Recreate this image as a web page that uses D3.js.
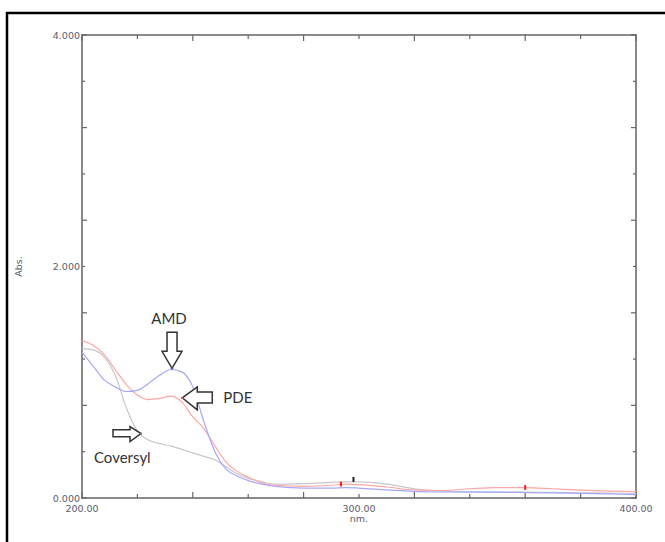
<!DOCTYPE html>
<html>
<head>
<meta charset="utf-8">
<script src="https://cdn.jsdelivr.net/npm/d3@7/dist/d3.min.js"></script>
<style>
  body { margin: 0; background: #fff; }
  .tick-label { font-family: "DejaVu Sans", sans-serif; font-size: 9.5px; fill: #5c5c6a; }
  .note { font-family: Lato, "Open Sans", sans-serif; font-size: 15px; fill: #333; }
</style>
</head>
<body>
<script>
// wavelengths (nm) shared by the three spectra
const wavelengths = [200, 204, 208, 212, 216, 220, 224, 228, 232, 236, 240, 244, 248, 252, 256, 260,
  265, 270, 280, 290, 295, 300, 310, 320, 330, 340, 350, 360, 370, 380, 390, 400];

// absorbance
const amdValues = [1.26, 1.14, 1.02, 0.96, 0.92, 0.93, 0.99, 1.06, 1.11, 1.09, 0.96, 0.66, 0.40, 0.25, 0.19, 0.15,
  0.12, 0.10, 0.085, 0.085, 0.09, 0.085, 0.07, 0.058, 0.052, 0.05, 0.05, 0.047, 0.045, 0.04, 0.035, 0.03];
const pdeValues = [1.36, 1.32, 1.24, 1.11, 0.98, 0.89, 0.85, 0.86, 0.88, 0.83, 0.70, 0.60, 0.45, 0.31, 0.23, 0.18,
  0.13, 0.11, 0.10, 0.11, 0.12, 0.115, 0.095, 0.07, 0.065, 0.08, 0.09, 0.09, 0.08, 0.068, 0.06, 0.056];
const coversylValues = [1.29, 1.28, 1.22, 1.06, 0.78, 0.58, 0.50, 0.47, 0.45, 0.42, 0.39, 0.36, 0.33, 0.27, 0.21, 0.17,
  0.14, 0.12, 0.125, 0.135, 0.14, 0.14, 0.12, 0.08, 0.06, 0.055, 0.05, 0.05, 0.048, 0.045, 0.042, 0.04];

const seriesNames = ["Coversyl", "PDE", "AMD"];
const seriesColors = ["#c8c8c8", "#ffa5a5", "#a8a8f8"];
const dotColors = ["#777", "#e05050", "#5050c0"];

// small peak pick marks
const peakNm = [293.5, 298, 360];
const peakAbs = [0.125, 0.165, 0.095];
const peakColors = ["#ff2020", "#222", "#ff2020"];

// annotation arrows: tip position (nm, abs)
const noteLabels = ["AMD", "PDE", "Coversyl"];
const noteTipNm = [232.5, 236.2, 221.3];
const noteTipAbs = [1.12, 0.865, 0.556];

const xTickLabels = [200, 300, 400];
const yTickLabels = [0, 2, 4];

const margin = { top: 35, right: 29, bottom: 44, left: 82 };
const width = 665 - margin.left - margin.right;
const height = 542 - margin.top - margin.bottom;

const svg = d3.select("body").append("svg")
  .attr("width", 665)
  .attr("height", 542);

// outer frame
svg.append("rect")
  .attr("x", 7).attr("y", 13)
  .attr("width", 700).attr("height", 600)
  .attr("fill", "none")
  .attr("stroke", "#000")
  .attr("stroke-width", 2.5);

const g = svg.append("g").attr("transform", `translate(${margin.left},${margin.top})`);

const x = d3.scaleLinear().domain([200, 400]).range([0, width]);
const y = d3.scaleLinear().domain([0, 4]).range([height, 0]);

// plot frame
g.append("rect")
  .attr("width", width).attr("height", height)
  .attr("fill", "none")
  .attr("stroke", "#8a8a8a")
  .attr("stroke-width", 2);

// ticks pointing inward
const xTicks = d3.range(200, 401, 20);
const yTicks = d3.range(0, 4.01, 0.4);
const tickStyle = sel => sel.attr("stroke", "#666").attr("stroke-width", 1.2);

xTicks.forEach(v => {
  const len = (v - 200) % 40 === 0 ? 6 : 4;
  g.append("line").attr("x1", x(v)).attr("x2", x(v)).attr("y1", height).attr("y2", height - len).call(tickStyle);
  g.append("line").attr("x1", x(v)).attr("x2", x(v)).attr("y1", 0).attr("y2", len).call(tickStyle);
});
yTicks.forEach((v, i) => {
  const len = i % 2 === 0 ? 5 : 3;
  g.append("line").attr("x1", 0).attr("x2", len).attr("y1", y(v)).attr("y2", y(v)).call(tickStyle);
  g.append("line").attr("x1", width).attr("x2", width - len).attr("y1", y(v)).attr("y2", y(v)).call(tickStyle);
});

g.selectAll(".xl").data(xTickLabels).enter().append("text")
  .attr("class", "tick-label")
  .attr("x", d => x(d))
  .attr("y", height + 14)
  .attr("text-anchor", "middle")
  .text(d => d.toFixed(2));

g.selectAll(".yl").data(yTickLabels).enter().append("text")
  .attr("class", "tick-label")
  .attr("x", -2)
  .attr("y", d => y(d) + 3.5)
  .attr("text-anchor", "end")
  .text(d => d.toFixed(3));

g.append("text")
  .attr("class", "tick-label")
  .attr("x", x(300))
  .attr("y", height + 24)
  .attr("text-anchor", "middle")
  .text("nm.");

g.append("text")
  .attr("class", "tick-label")
  .attr("transform", `translate(${22 - margin.left},${y(2)}) rotate(-90)`)
  .attr("text-anchor", "middle")
  .text("Abs.");

// spectra
const line = d3.line()
  .x(d => x(d[0]))
  .y(d => y(d[1]))
  .curve(d3.curveMonotoneX);

[coversylValues, pdeValues, amdValues].forEach((vals, i) => {
  g.append("path")
    .datum(wavelengths.map((w, j) => [w, vals[j]]))
    .attr("fill", "none")
    .attr("stroke", seriesColors[i])
    .attr("stroke-width", 1.2)
    .attr("d", line);
});

// peak marks
peakNm.forEach((w, i) => {
  g.append("line")
    .attr("x1", x(w)).attr("x2", x(w))
    .attr("y1", y(peakAbs[i]) - 2).attr("y2", y(peakAbs[i]) + 3)
    .attr("stroke", peakColors[i])
    .attr("stroke-width", 2);
});

// annotation arrows (hollow block arrows)
const arrowDown = "M-5,-36 L5,-36 L5,-17 L10,-17 L0,0 L-10,-17 L-5,-17 Z";
const arrowLeft = "M30,-6 L30,5 L15,5 L15,12 L0,0 L15,-11 L15,-6 Z";
const arrowRight = "M-28,-4 L-28,3 L-11,3 L-11,8 L0,0 L-11,-7 L-11,-4 Z";
const arrowPaths = [arrowDown, arrowLeft, arrowRight];

noteLabels.forEach((lab, i) => {
  const tx = x(noteTipNm[i]);
  const ty = y(noteTipAbs[i]);
  g.append("path")
    .attr("transform", `translate(${tx},${ty})`)
    .attr("d", arrowPaths[i])
    .attr("fill", "#fff")
    .attr("stroke", "#333")
    .attr("stroke-width", 1.5)
    .attr("stroke-linejoin", "miter");
  g.append("circle")
    .attr("cx", tx).attr("cy", ty).attr("r", 1.2)
    .attr("fill", dotColors[2 - i]);
});

const noteDx = [-3, 41, -47];
const noteDy = [-44, 5, 29];
const noteAnchor = ["middle", "start", "start"];
noteLabels.forEach((lab, i) => {
  g.append("text")
    .attr("class", "note")
    .attr("x", x(noteTipNm[i]) + noteDx[i])
    .attr("y", y(noteTipAbs[i]) + noteDy[i])
    .attr("text-anchor", noteAnchor[i])
    .text(lab);
});
</script>
</body>
</html>
